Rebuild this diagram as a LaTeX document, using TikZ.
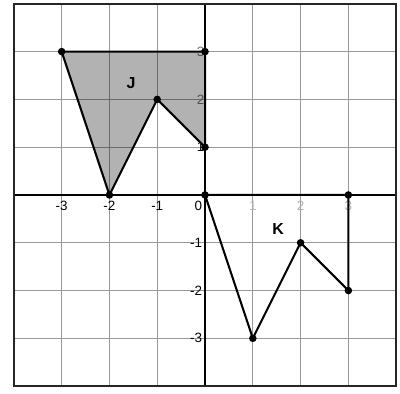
\documentclass[tikz,border=0pt]{standalone}
\usepackage{fontspec}
\setmainfont{Liberation Sans}
\usepackage{tikz}
\usetikzlibrary{positioning}

\begin{document}
\begin{tikzpicture}[
  x=1cm, y=1cm,
  every node/.style={font=\fontsize{8}{9}\selectfont},
  gridline/.style={draw=black!40, line width=0.4pt},
  axisline/.style={draw=black, line width=1.1pt},
  frame/.style={draw=black!85, line width=1.3pt},
  edge/.style={draw=black, line width=1.2pt, line join=round},
  shade/.style={fill=black, fill opacity=0.3},
  vdot/.style={circle, fill=black, inner sep=0pt, minimum size=4.5pt},
  tick/.style={inner sep=1pt},
  shapelabel/.style={font=\fontsize{9.5}{11}\selectfont\bfseries},
]
  \useasboundingbox (-4.29,-4.16) rectangle (4.08,4.08);

  % grid
  \foreach \k in {-3,...,3} {
    \draw[gridline] (\k,-4) -- (\k,4);
    \draw[gridline] (-4,\k) -- (4,\k);
  }

  % tick labels
  \foreach \k in {-3,-2,-1}
    \node[tick, below=1pt] (xl\k) at (\k,-0.05) {\k};
  \foreach \k in {1,2,3}
    \node[tick, below=1pt, text=black!30] (xl\k) at (\k,-0.05) {\k};
  \node[tick, below left=1pt and 0pt] (xl0) at (-0.02,-0.05) {0};
  \foreach \k/\c in {1/100,2/55,3/55}
    \node[tick, left=0pt, text=black!\c] (yl\k) at (0.03,\k) {\k};
  \foreach \k in {-1,-2,-3}
    \node[tick, left=0pt] (yl\k) at (-0.02,\k) {\k};

  % axes
  \draw[axisline] (-4,0) -- (4,0);
  \draw[axisline] (0,-4) -- (0,4);

  % shape J
  \coordinate (ja) at (-3,3);
  \coordinate (jb) at (0,3);
  \coordinate (jc) at (0,1);
  \coordinate (jd) at (-1,2);
  \coordinate (je) at (-2,0);
  \fill[shade] (ja) -- (jb) -- (jc) -- (jd) -- (je) -- cycle;
  \draw[edge] (ja) -- (jb) -- (jc) -- (jd) -- (je) -- cycle;
  \node[shapelabel] (jlab) at (-1.55,2.35) {J};

  % shape K
  \coordinate (ka) at (0,0);
  \coordinate (kb) at (3,0);
  \coordinate (kc) at (3,-2);
  \coordinate (kd) at (2,-1);
  \coordinate (ke) at (1,-3);
  \draw[edge] (ka) -- (kb) -- (kc) -- (kd) -- (ke) -- cycle;
  \node[shapelabel] (klab) at (1.53,-0.71) {K};

  % vertices
  \foreach \p in {ja,jb,jc,jd,je,ka,kb,kc,kd,ke}
    \node[vdot] at (\p) {};

  % frame
  \draw[frame] (-4,-4) rectangle (4,4);
\end{tikzpicture}
\end{document}
